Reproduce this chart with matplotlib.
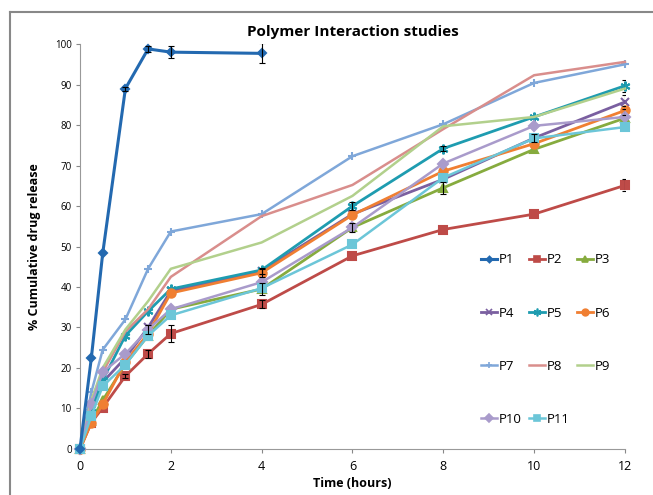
import matplotlib.pyplot as plt
from matplotlib.lines import Line2D
import numpy as np

plt.rcParams['font.family'] = ['Open Sans', 'DejaVu Sans']

# sampling times (hours)
t = [0, 0.25, 0.5, 1, 1.5, 2, 4, 6, 8, 10, 12]
t_p1 = [0, 0.25, 0.5, 1, 1.5, 2, 4]

names = ['P1', 'P2', 'P3', 'P4', 'P5', 'P6', 'P7', 'P8', 'P9', 'P10', 'P11']

p1 = [0, 22.5, 48.3, 89.0, 98.8, 98.0, 97.7]
p2 = [0, 6.5, 10.2, 18.0, 23.5, 28.5, 35.7, 47.7, 54.2, 58.0, 65.1]
p3 = [0, 7.0, 12.0, 21.0, 28.0, 34.5, 39.5, 54.7, 64.5, 74.0, 81.7]
p4 = [0, 9.0, 16.5, 22.5, 30.0, 39.0, 44.0, 58.0, 66.6, 76.8, 85.7]
p5 = [0, 10.0, 17.0, 28.0, 34.0, 39.5, 44.2, 60.0, 74.2, 82.0, 89.7]
p6 = [0, 6.5, 11.0, 21.5, 28.5, 38.5, 43.5, 57.8, 68.6, 75.4, 83.6]
p7 = [0, 14.0, 24.5, 32.0, 44.5, 53.7, 58.0, 72.3, 80.2, 90.4, 95.0]
p8 = [0, 12.0, 19.0, 29.0, 34.5, 42.5, 57.5, 65.2, 79.0, 92.3, 95.6]
p9 = [0, 12.0, 20.0, 29.5, 36.5, 44.5, 51.0, 62.5, 79.7, 82.0, 89.0]
p10 = [0, 11.0, 19.0, 23.5, 29.5, 34.5, 41.2, 54.7, 70.5, 79.8, 82.0]
p11 = [0, 8.2, 15.5, 20.8, 28.0, 33.0, 39.7, 50.5, 67.0, 76.7, 79.5]

# standard deviations shown as error bars (0 = no bar)
e1 = [0, 0, 0, 0.5, 0.8, 1.5, 2.5]
e2 = [0, 0, 0, 0.5, 1.0, 2.0, 1.0, 0, 0, 0, 1.5]
e3 = [0, 0, 0, 0, 0, 0, 1.5, 0, 1.5, 0, 0]
e4 = [0, 0, 0, 0, 0, 0, 0.8, 0, 0, 1.0, 1.8]
e5 = [0, 0, 0, 0, 0, 0, 0, 1.0, 0.7, 0, 1.5]
e6 = [0, 0, 0, 0, 0, 0, 1.0, 0, 0, 0, 1.0]
e10 = [0, 0, 0, 0, 1.0, 0, 0, 1.0, 0, 0, 0]

colors = ['#2369B0', '#BE4B48', '#86AB3E', '#7A5FA0', '#1E9CB0', '#F07F32',
          '#7FA7D9', '#D98E8C', '#B2D08C', '#A99BCB', '#6CC6D8']
markers = ['D', 's', '^', 'x', (6, 2, 0), 'o', '+', 'None', 'None', 'D', 's']
msizes = [4, 6, 6, 6, 7, 6, 6, 0, 0, 5, 6]
lws = [2.2, 2.0, 2.0, 2.0, 2.0, 2.0, 1.8, 1.8, 1.8, 1.8, 1.8]

series = [p1, p2, p3, p4, p5, p6, p7, p8, p9, p10, p11]
errs = [e1, e2, e3, e4, e5, e6, None, None, None, e10, None]

fig = plt.figure(figsize=(6.53, 4.95), dpi=100)
ax = fig.add_axes([0.1225, 0.093, 0.8345, 0.818])

handles = {}
for i in range(len(series)):
    x = np.array(t_p1 if i == 0 else t)
    y = np.array(series[i])
    ax.plot(x, y, color=colors[i], marker=markers[i], markersize=msizes[i],
            lw=lws[i], mew=1.5, clip_on=False, zorder=3 + (i == 0))
    if errs[i] is not None:
        e = np.array(errs[i])
        m = e > 0
        ax.errorbar(x[m], y[m], yerr=e[m], fmt='none', ecolor='black', elinewidth=0.8,
                    capsize=2.5, capthick=0.8, zorder=5)
    handles[names[i]] = Line2D([], [], color=colors[i], marker=markers[i],
                               markersize=msizes[i] * 0.8, lw=lws[i], mew=1.2)

ax.set_xlim(0, 12)
ax.set_ylim(0, 100)
ax.set_xticks(np.arange(0, 13, 2))
ax.set_yticks(np.arange(0, 101, 10))
ax.tick_params(axis='y', labelsize=7, length=3, color='#888888', pad=3)
ax.tick_params(axis='x', labelsize=9, length=3, color='#888888', pad=5)
for s in ['top', 'right']:
    ax.spines[s].set_visible(False)
for s in ['left', 'bottom']:
    ax.spines[s].set_color('#999999')

ax.set_title('Polymer Interaction studies', fontsize=11, fontweight='bold', pad=6)
ax.set_xlabel('Time (hours)', fontsize=9, fontweight='bold', labelpad=3)
ax.set_ylabel('% Cumulative drug release', fontsize=9, fontweight='bold', labelpad=10)

# legend laid out row by row: P1 P2 P3 / P4 P5 P6 / ...
order = ['P1', 'P4', 'P7', 'P10', 'P2', 'P5', 'P8', 'P11', 'P3', 'P6', 'P9']
ax.legend([handles[n] for n in order], order, ncol=3, loc='upper left',
          bbox_to_anchor=(0.722, 0.507), bbox_transform=fig.transFigure,
          frameon=False, fontsize=9.5, labelspacing=3.05, handlelength=1.25,
          handletextpad=0.15, columnspacing=0.5, borderpad=0.2)

# outer chart border (left and top edges visible)
fig.add_artist(Line2D([10 / 653, 10 / 653], [0, 1 - 12 / 495],
                      transform=fig.transFigure, color='#888888', lw=1.5))
fig.add_artist(Line2D([10 / 653, 1], [1 - 12 / 495, 1 - 12 / 495],
                      transform=fig.transFigure, color='#888888', lw=1.5))

fig.savefig('out.png', dpi=100)
